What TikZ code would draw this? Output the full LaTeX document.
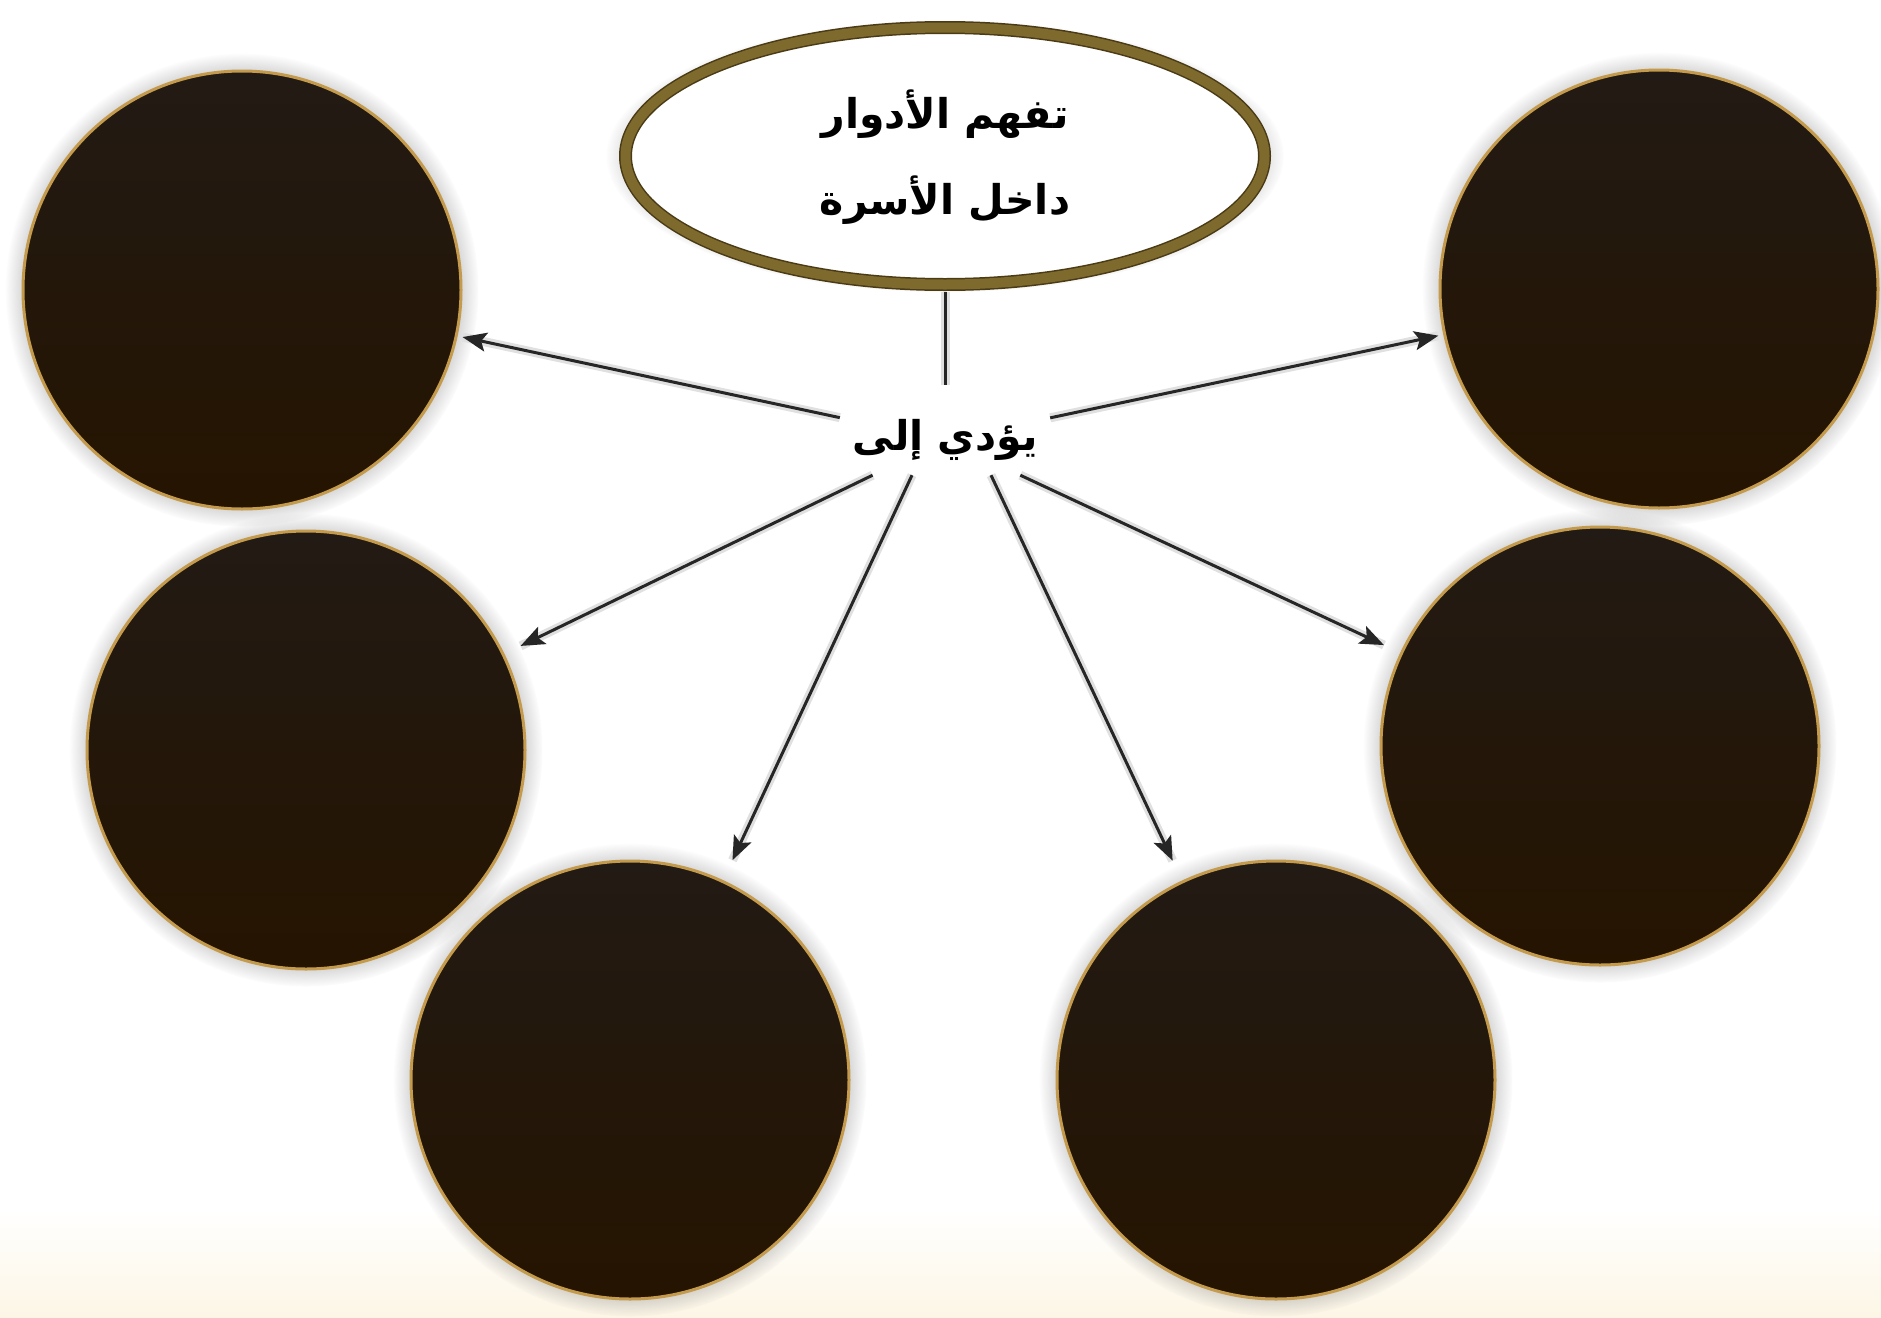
\documentclass[tikz,border=0pt]{standalone}
\usepackage{fontspec}
\usetikzlibrary{shapes.geometric,shadows,arrows.meta}
\TeXXeTstate=1
\newfontfamily\arabicfont[Script=Arabic]{DejaVu Sans}
\definecolor{rim}{HTML}{C49A4C}
\definecolor{blobtop}{HTML}{221A14}
\definecolor{blobbot}{HTML}{251400}
\definecolor{ringolive}{HTML}{7D6A2C}
\definecolor{ringdark}{HTML}{4A3B16}
\definecolor{cream}{HTML}{FDF6E6}
\tikzset{
  blob/.style={circle, minimum size=438pt, inner sep=0pt, draw=rim, line width=3pt,
    top color=blobtop, bottom color=blobbot,
    circular glow={shadow scale=1.08, fill=gray, opacity=.6}},
  arabtxt/.style={font=\arabicfont\bfseries\fontsize{41}{86}\selectfont, align=center},
  arr/.style={line width=3pt, black!85, -{Stealth[length=24pt,width=19pt,inset=5pt]},
    preaction={draw=black!12, line width=9pt, -}},
}
\begin{document}
\begin{tikzpicture}[x=1pt,y=-1pt]
  \useasboundingbox (0,0) rectangle (1881,1317);
  \fill[white] (0,0) rectangle (1881,1317);
  \fill[top color=white, bottom color=cream] (0,1210) rectangle (1881,1317);
  % the title
  \node[ellipse, minimum width=639pt, minimum height=257pt, fill=white,
    draw=ringdark, double=ringolive, double distance=10pt, line width=1.5pt,
    circular glow={shadow scale=1.06, fill=gray, opacity=.6}] (top) at (945,156) {};
  \node[arabtxt] (title) at (945,157) {{\beginR تفهم الأدوار\endR}\\{\beginR داخل الأسرة\endR}};
  \node[arabtxt, minimum width=210pt, minimum height=70pt, inner sep=0pt] (lead) at (945,440) {\beginR يؤدي إلى\endR};
  % the six circles
  \node[blob] (c1) at (242,290) {};
  \node[blob] (c2) at (1659,289) {};
  \node[blob] (c3) at (306,750) {};
  \node[blob] (c4) at (1600,746) {};
  \node[blob] (c5) at (630,1080) {};
  \node[blob] (c6) at (1276,1080) {};
  % connectors
  \draw[line width=3pt, black!85, shorten <=7pt, shorten >=20pt,
    preaction={draw=black!12, line width=9pt}] (top) -- (lead);
  \draw[arr, shorten >=5pt] (lead) -- (c1);
  \draw[arr, shorten >=5pt] (lead) -- (c2);
  \draw[arr, shorten >=18pt] (lead) -- (c3);
  \draw[arr, shorten >=18pt] (lead) -- (c4);
  \draw[arr, shorten >=22pt] ([xshift=-33pt]lead.south) -- (c5);
  \draw[arr, shorten >=22pt] ([xshift=46pt]lead.south) -- (c6);
\end{tikzpicture}
\end{document}
